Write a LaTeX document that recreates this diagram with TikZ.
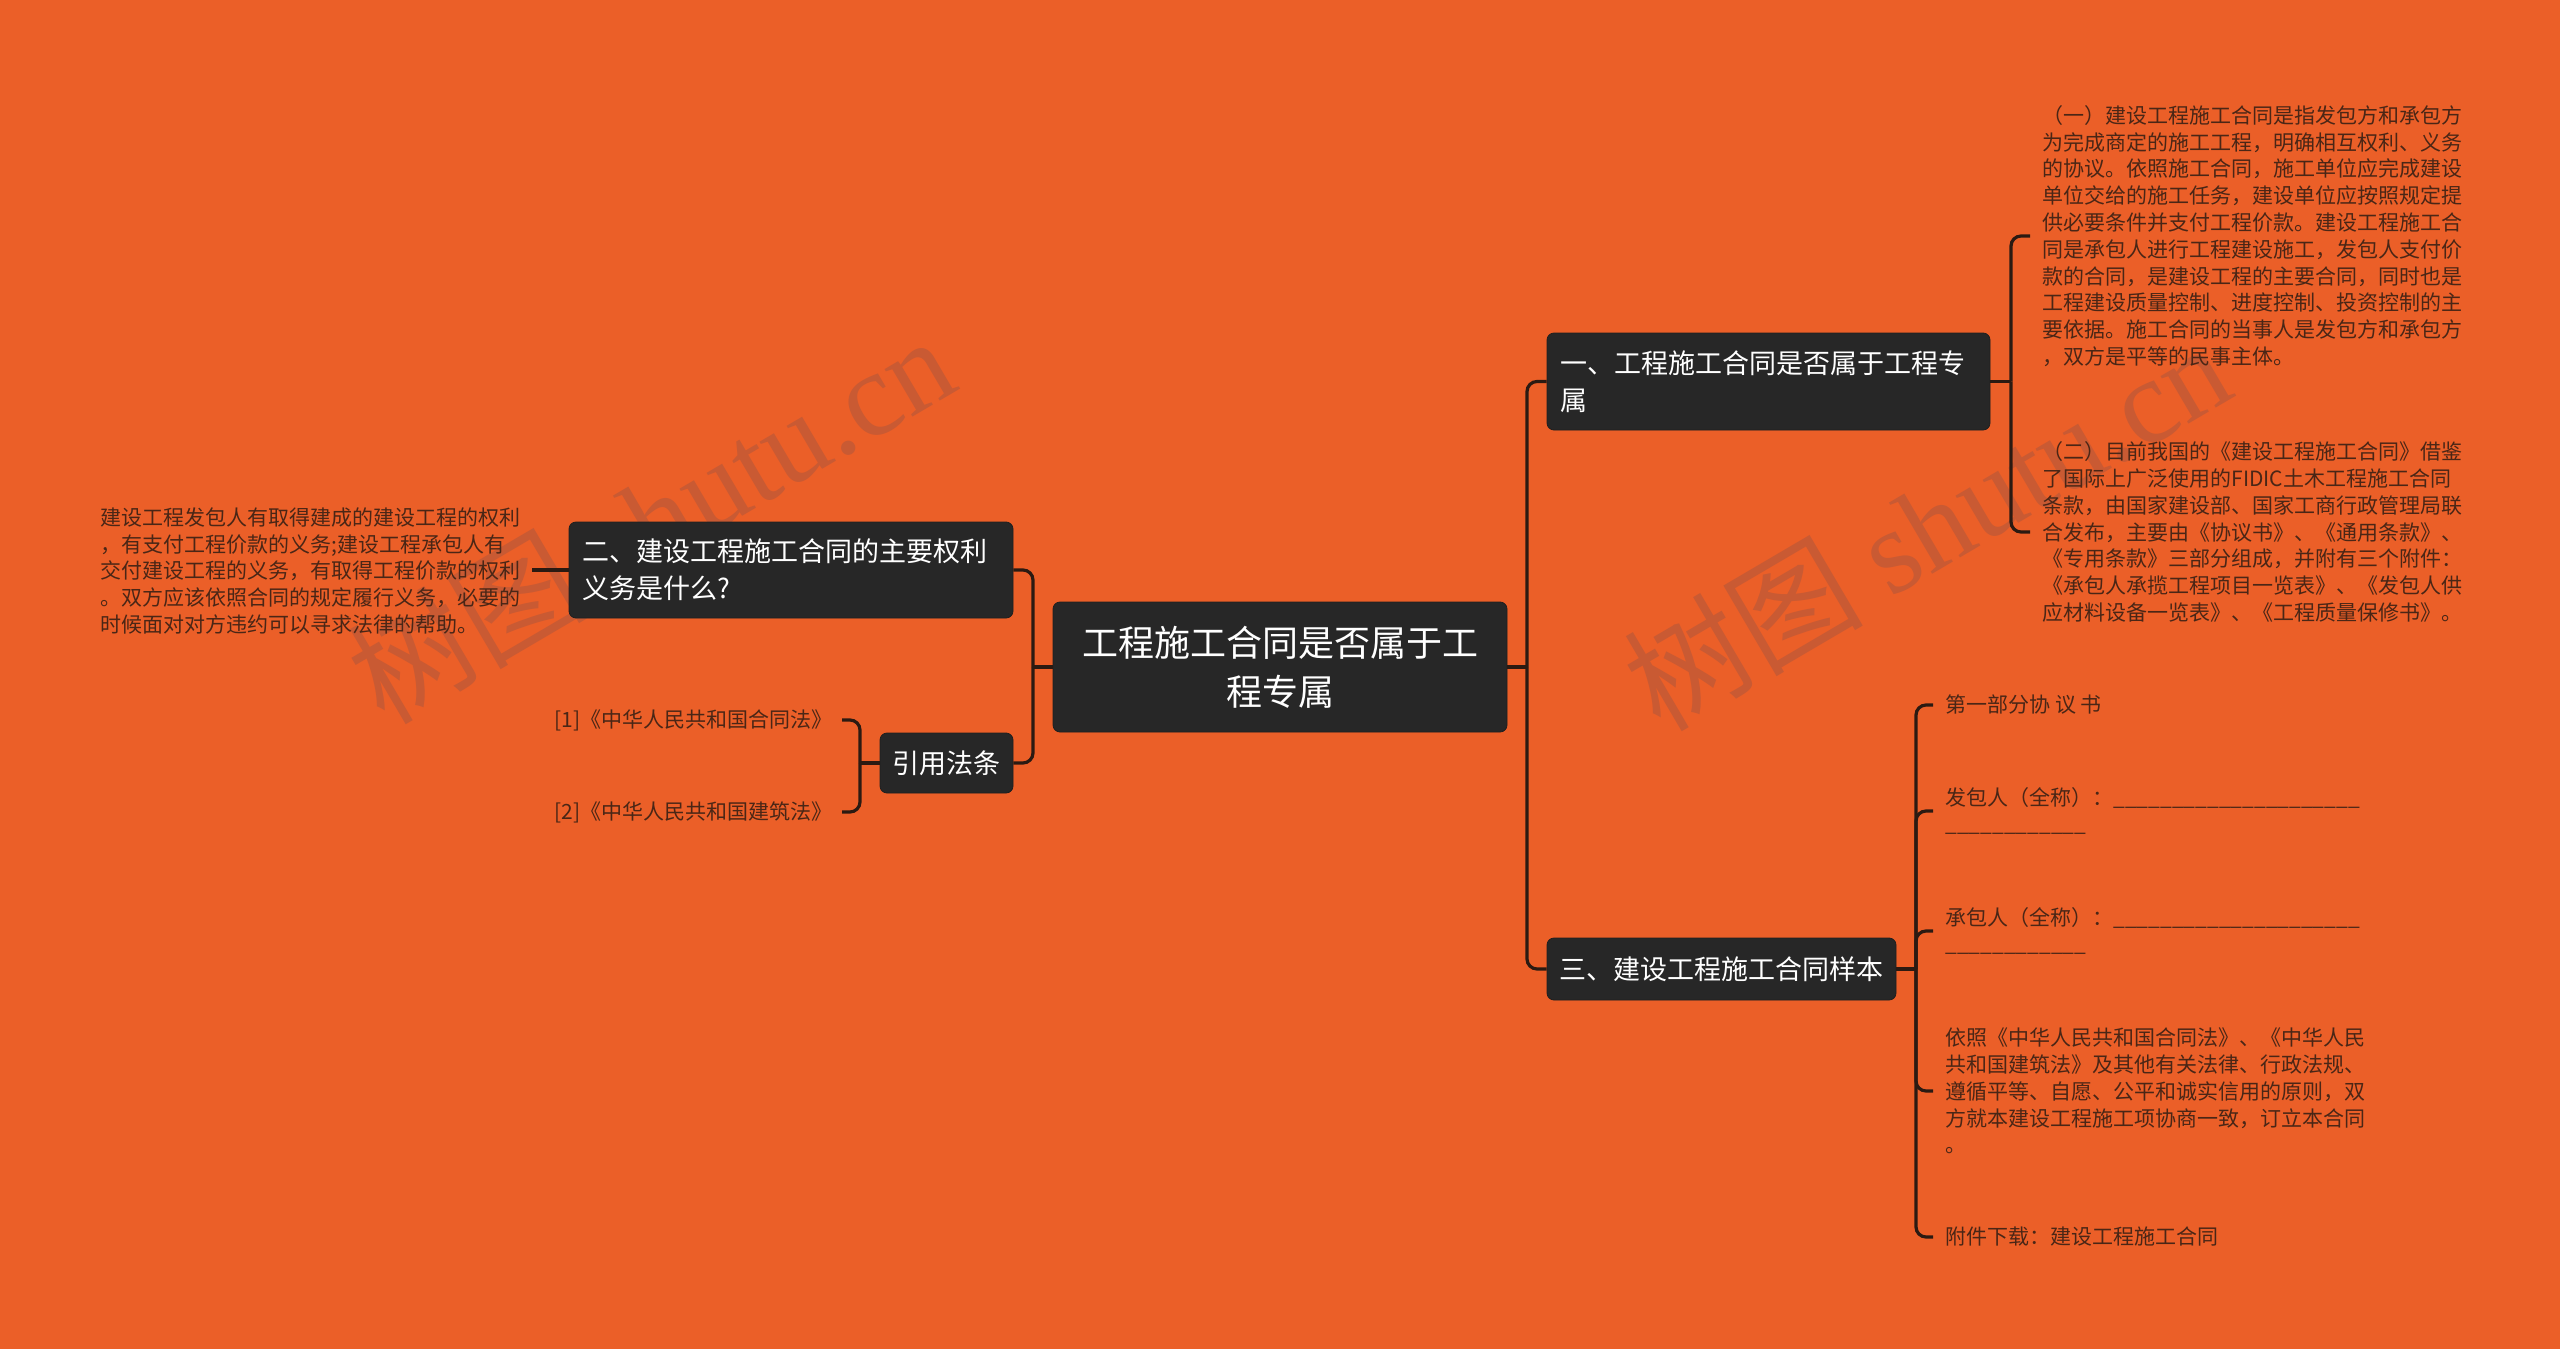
\documentclass[tikz,border=0pt]{standalone}
\usepackage{fontspec}
\newfontfamily\cjk{Noto Sans CJK SC}
\newfontfamily\wmserif{Liberation Serif}
\definecolor{bgc}{HTML}{EB5F28}
\definecolor{wmc}{HTML}{C95A33}
\definecolor{boxc}{HTML}{272727}
\definecolor{linec}{HTML}{2B1A12}
\definecolor{leafc}{HTML}{4A2616}
\newcommand\myuls[1]{\foreach\i in {1,...,#1}{\_}}
\begin{document}
\begin{tikzpicture}[x=0.5pt,y=-0.5pt,
  conn/.style={draw=linec,line width=1.6pt,rounded corners=5pt},
  rootbox/.style={fill=boxc,draw=boxc!80!black,rounded corners=3.5pt,text=white,
    font=\cjk\fontsize{18}{24.5}\selectfont,align=center,inner sep=0pt},
  topicbox/.style={fill=boxc,draw=boxc!80!black,rounded corners=3.5pt,text=white,
    font=\cjk\fontsize{13.5}{18.5}\selectfont,inner sep=0pt},
  leaf/.style={font=\cjk\fontsize{10.5}{13.4}\selectfont,text=leafc,align=left,inner sep=0pt},
  wm/.style={text=wmc,rotate=30.4,inner sep=0pt}]
\useasboundingbox (0,0) rectangle (2560,1349);
\fill[bgc] (0,0) rectangle (2560,1349);
% watermarks
\node[wm] (wm1) at (650,518) {\cjk\fontsize{60}{60}\selectfont 树图 {\wmserif shutu.cn}};
\node[wm] (wm2) at (1926,525) {\cjk\fontsize{60}{60}\selectfont 树图 {\wmserif shutu.cn}};
% nodes
\node[rootbox,minimum width=227pt,minimum height=65pt,text width=200pt] (c) at (1280,667)
  {工程施工合同是否属于工\\程专属};
\node[topicbox,minimum width=221.5pt,minimum height=48.5pt,text width=208.5pt,align=left] (n1) at (1768.5,381.5)
  {一、工程施工合同是否属于工程专\\属};
\node[topicbox,minimum width=222pt,minimum height=48pt,text width=209pt,align=left] (n2) at (791,570)
  {二、建设工程施工合同的主要权利\\义务是什么?};
\node[topicbox,minimum width=66.5pt,minimum height=30pt,align=center] (y) at (946.5,763)
  {引用法条};
\node[topicbox,minimum width=174.5pt,minimum height=31pt,align=center] (n3) at (1721.5,969)
  {三、建设工程施工合同样本};
% leaves
\node[leaf,anchor=west] (l1) at (2042,236) {（一）建设工程施工合同是指发包方和承包方\\
为完成商定的施工工程，明确相互权利、义务\\
的协议。依照施工合同，施工单位应完成建设\\
单位交给的施工任务，建设单位应按照规定提\\
供必要条件并支付工程价款。建设工程施工合\\
同是承包人进行工程建设施工，发包人支付价\\
款的合同，是建设工程的主要合同，同时也是\\
工程建设质量控制、进度控制、投资控制的主\\
要依据。施工合同的当事人是发包方和承包方\\
，双方是平等的民事主体。};
\node[leaf,anchor=west] (l2) at (2042,532) {（二）目前我国的《建设工程施工合同》借鉴\\
了国际上广泛使用的FIDIC土木工程施工合同\\
条款，由国家建设部、国家工商行政管理局联\\
合发布，主要由《协议书》、《通用条款》、\\
《专用条款》三部分组成，并附有三个附件：\\
《承包人承揽工程项目一览表》、《发包人供\\
应材料设备一览表》、《工程质量保修书》。};
\node[leaf,anchor=west] (ll) at (100,571) {建设工程发包人有取得建成的建设工程的权利\\
，有支付工程价款的义务;建设工程承包人有\\
交付建设工程的义务，有取得工程价款的权利\\
。双方应该依照合同的规定履行义务，必要的\\
时候面对对方违约可以寻求法律的帮助。};
\node[leaf,anchor=east] (r1) at (833,720) {[1]《中华人民共和国合同法》};
\node[leaf,anchor=east] (r2) at (833,812) {[2]《中华人民共和国建筑法》};
\node[leaf,anchor=west] (s1) at (1945,705) {第一部分协 议 书};
\node[leaf,anchor=west] (s2) at (1945,811) {发包人（全称）：\myuls{21}\\ \myuls{12}};
\node[leaf,anchor=west] (s3) at (1945,931) {承包人（全称）：\myuls{21}\\ \myuls{12}};
\node[leaf,anchor=west] (s4) at (1945,1091) {依照《中华人民共和国合同法》、《中华人民\\
共和国建筑法》及其他有关法律、行政法规、\\
遵循平等、自愿、公平和诚实信用的原则，双\\
方就本建设工程施工项协商一致，订立本合同\\
。};
\node[leaf,anchor=west] (s5) at (1945,1237) {附件下载：建设工程施工合同};
% junction coordinates
\coordinate (jr) at (1527,667);
\coordinate (jl) at (1033,667);
\coordinate (j1) at (2011,381.5);
\coordinate (j3) at (1916,969);
\coordinate (jy) at (860,763);
% connectors
\draw[conn] (c.east) -- (jr);
\draw[conn] (jr) |- (n1.west);
\draw[conn] (jr) |- (n3.west);
\draw[conn] (c.west) -- (jl);
\draw[conn] (jl) |- (n2.east);
\draw[conn] (jl) |- (y.east);
\draw[conn] (n2.west) -- ([xshift=5.5pt]ll.east |- n2.west);
\draw[conn] (n1.east) -- (j1);
\draw[conn] (j1) |- ([xshift=-6pt]l1.west);
\draw[conn] (j1) |- ([xshift=-6pt]l2.west);
\draw[conn] (y.west) -- (jy);
\draw[conn] (jy) |- ([xshift=4.5pt]r1.east);
\draw[conn] (jy) |- ([xshift=4.5pt]r2.east);
\draw[conn] (n3.east) -- (j3);
\draw[conn] (j3) |- ([xshift=-6pt]s1.west);
\draw[conn] (j3) |- ([xshift=-6pt]s2.west);
\draw[conn] (j3) |- ([xshift=-6pt]s3.west);
\draw[conn] (j3) |- ([xshift=-6pt]s4.west);
\draw[conn] (j3) |- ([xshift=-6pt]s5.west);
\end{tikzpicture}
\end{document}
